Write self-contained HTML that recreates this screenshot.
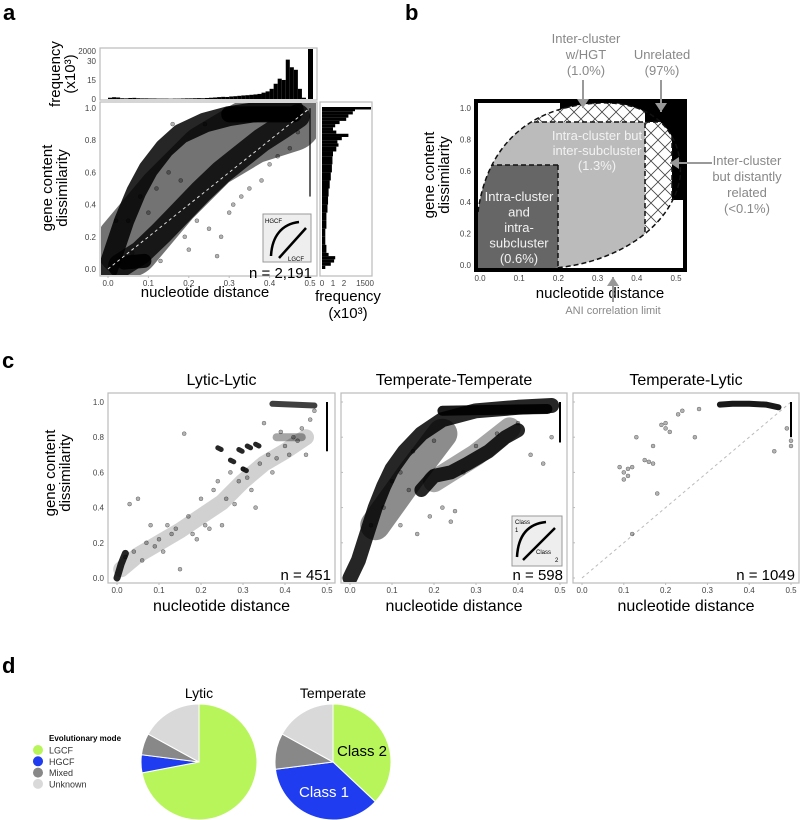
<!DOCTYPE html>
<html><head><meta charset="utf-8"><style>
html,body{margin:0;padding:0;background:#fff;}
svg{display:block;font-family:"Liberation Sans",sans-serif;}
</style></head><body>
<svg id="fig" width="800" height="820" viewBox="0 0 800 820" xmlns="http://www.w3.org/2000/svg">
<defs id="defs">
<pattern id="hatch" width="14" height="14" patternUnits="userSpaceOnUse">
<rect width="14" height="14" fill="#fff"/>
<path d="M0,0 L14,14 M14,0 L0,14" stroke="#444" stroke-width="0.8"/>
</pattern>
<clipPath id="ellClip"><path d="M 478,212 C 486,150 525,106 600,103 C 660,101 684,140 680,178 C 672,225 620,262 555,268 L 470,275 Z"/></clipPath>
<clipPath id="boxB"><rect x="478" y="103" width="206" height="166"/></clipPath>
<clipPath id="clipA"><rect x="101" y="103" width="215" height="172"/></clipPath>
<clipPath id="clipC0"><rect x="109" y="394" width="225" height="188"/></clipPath>
<clipPath id="clipC1"><rect x="342" y="394" width="224" height="188"/></clipPath>
<clipPath id="clipC2"><rect x="574" y="394" width="224" height="188"/></clipPath>
</defs>
<g id="panelA"></g>
<g id="panelB"></g>
<g id="panelC"></g>
<g id="panelD"></g>
</svg>
<script>
// ---------- data ----------
const histTopVals = [1,1.4,1.2,0.6,0.5,0.8,0.9,0.6,0.5,0.5,0.4,0.4,0.3,0.3,0.3,0.2,0.3,0.3,0.4,0.5,0.5,0.6,0.7,0.6,0.8,1,1.2,1.5,1.7,1.6,2,2.2,2.5,2.8,3,3.3,3.6,4,5,6,8,12,16,15,31,25,23,8,1,0];
const histTopBig = 2000;
const histRightBins = [0.0,0.02,0.04,0.06,0.08,0.1,0.15,0.2,0.25,0.3,0.35,0.4,0.45,0.5,0.55,0.6,0.65,0.7,0.73,0.76,0.78,0.8,0.82,0.84,0.86,0.88,0.9,0.92,0.94,0.96,0.98];
const histRightVals = [0.3,0.8,1.1,1.2,0.6,0.4,0.3,0.3,0.4,0.4,0.5,0.55,0.6,0.7,0.8,0.9,0.95,1.0,1.3,1.5,1.4,1.8,2.4,1.3,1.0,1.2,1.6,2.2,2.4,2.8,3.0];
const aPtsX = [0.05,0.08,0.12,0.15,0.18,0.22,0.25,0.28,0.3,0.33,0.35,0.38,0.4,0.42,0.45,0.47,0.27,0.2,0.1,0.16,0.24,0.36,0.44,0.06,0.13,0.02,0.19,0.31];
const aPtsY = [0.3,0.45,0.5,0.6,0.55,0.3,0.25,0.2,0.35,0.45,0.5,0.55,0.65,0.7,0.75,0.85,0.08,0.12,0.35,0.9,0.9,0.98,0.97,0.1,0.05,0.3,0.2,0.4];
const aBand1X = [0.0,0.02,0.04,0.07,0.1,0.14,0.18,0.24,0.3,0.38,0.46];
const aBand1Y = [0.0,0.15,0.3,0.48,0.62,0.75,0.84,0.91,0.95,0.98,0.99];
const aBand2X = [0.03,0.08,0.13,0.18,0.23,0.28,0.33,0.38,0.43,0.47];
const aBand2Y = [0.02,0.1,0.22,0.35,0.48,0.6,0.7,0.8,0.88,0.95];
const aCloudX = [0.05,0.15,0.25,0.35,0.45];
const aCloudY = [0.15,0.45,0.7,0.85,0.93];

const c1PtsX = [0.02,0.04,0.05,0.07,0.08,0.1,0.12,0.14,0.15,0.17,0.18,0.2,0.21,0.23,0.24,0.26,0.27,0.29,0.3,0.32,0.34,0.36,0.38,0.4,0.42,0.44,0.46,0.16,0.03,0.25,0.35,0.45,0.47,0.33,0.06,0.09,0.11,0.13,0.19,0.22,0.28,0.31,0.37,0.41,0.43,0.39];
const c1PtsY = [0.12,0.15,0.45,0.2,0.3,0.22,0.3,0.28,0.05,0.35,0.25,0.45,0.3,0.5,0.55,0.45,0.6,0.55,0.62,0.5,0.65,0.7,0.68,0.75,0.8,0.85,0.9,0.82,0.42,0.3,0.88,0.7,0.95,0.4,0.1,0.18,0.15,0.25,0.22,0.28,0.42,0.57,0.6,0.7,0.78,0.83];
const c1BandX = [0.01,0.05,0.1,0.15,0.2,0.25,0.3,0.35,0.4,0.45];
const c1BandY = [0.05,0.13,0.2,0.27,0.35,0.43,0.55,0.65,0.72,0.8];
const c1BlobX = [0.24,0.27,0.29,0.31,0.33,0.3];
const c1BlobY = [0.74,0.67,0.73,0.75,0.76,0.62];
const c1OriginX = [0.0,0.005,0.01,0.015,0.02];
const c1OriginY = [0.0,0.04,0.08,0.11,0.14];

const c2UpX = [0.0,0.02,0.04,0.06,0.08,0.1,0.13,0.17,0.22,0.3,0.4,0.48];
const c2UpY = [0.0,0.1,0.25,0.4,0.52,0.62,0.72,0.82,0.9,0.95,0.97,0.98];
const c2LowX = [0.17,0.2,0.24,0.28,0.33,0.37,0.4];
const c2LowY = [0.5,0.58,0.6,0.65,0.72,0.8,0.84];
const c2PtsX = [0.05,0.08,0.1,0.12,0.15,0.2,0.22,0.25,0.27,0.3,0.35,0.4,0.43,0.46,0.48,0.14,0.19,0.24,0.12,0.16];
const c2PtsY = [0.3,0.4,0.55,0.6,0.72,0.78,0.4,0.38,0.6,0.75,0.82,0.88,0.7,0.65,0.8,0.5,0.35,0.32,0.3,0.25];

const c3PtsX = [0.09,0.1,0.11,0.12,0.13,0.15,0.17,0.17,0.18,0.19,0.2,0.2,0.21,0.23,0.24,0.27,0.28,0.46,0.49,0.5,0.5,0.12,0.16,0.1,0.11];
const c3PtsY = [0.63,0.6,0.58,0.63,0.8,0.67,0.75,0.65,0.48,0.87,0.88,0.85,0.83,0.93,0.95,0.8,0.96,0.72,0.85,0.75,0.78,0.25,0.66,0.56,0.62];
const c3TopX = [0.33,0.36,0.4,0.44,0.47];
const c3TopY = [0.985,0.99,0.99,0.985,0.97];

const pieLabels = ["LGCF","HGCF","Mixed","Unknown"];
const lyticVals = [72,5,6,17];
const temperateVals = [37,36,10,17];

// ---------- helpers ----------
const NS="http://www.w3.org/2000/svg";
function mk(parent,tag,attrs,text){const e=document.createElementNS(NS,tag);for(const k in attrs)e.setAttribute(k,attrs[k]);if(text!==undefined)e.textContent=text;parent.appendChild(e);return e;}
function lin(d0,d1,r0,r1){return v=>r0+(v-d0)/(d1-d0)*(r1-r0);}
function poly(xs,ys,sx,sy){return xs.map((x,i)=>sx(x).toFixed(1)+","+sy(ys[i]).toFixed(1)).join(" ");}

function drawScatterPanel(g,box,sx,sy,xt,yt,showY){
  const fr=mk(g,'rect',{x:box[0],y:box[1],width:box[2]-box[0],height:box[3]-box[1],fill:'#fff',stroke:'#bbb','stroke-width':1.2});
  
  
  xt.forEach(v=>{const t=mk(g,'text',{x:sx(v),y:box[3]+10,'font-size':8,'text-anchor':'middle',fill:'#444'},v.toFixed(1));
    
    
    mk(g,'line',{x1:sx(v),x2:sx(v),y1:box[3],y2:box[3]+2,stroke:'#bbb'});});
  if(showY) yt.forEach(v=>{const t=mk(g,'text',{x:box[0]-4,y:sy(v)+3,'font-size':8,'text-anchor':'end',fill:'#444'},v.toFixed(1));
    
    });
  else yt.forEach(v=>mk(g,'line',{x1:box[0],x2:box[0]+2,y1:sy(v),y2:sy(v),stroke:'#bbb'}));
}
function band(g,xs,ys,sx,sy,w,op,name){const p=mk(g,'polyline',{points:poly(xs,ys,sx,sy),fill:'none',stroke:'#000','stroke-width':w,'stroke-opacity':op,'stroke-linecap':'round','stroke-linejoin':'round'});
  
  }
function pts(g,xs,ys,sx,sy,name){xs.forEach((x,i)=>{const c=mk(g,'circle',{cx:sx(x),cy:sy(ys[i]),r:2,fill:'#000','fill-opacity':0.3,stroke:'#000','stroke-opacity':0.5,'stroke-width':0.5});
  
  });}
function txt(g,x,y,s,size,opt,name){const t=mk(g,'text',Object.assign({x:x,y:y,'font-size':size},opt||{}),s);
  
  return t;}
function vtxt(g,x,y,s,size,name){const t=mk(g,'text',{x:0,y:0,'font-size':size,'text-anchor':'middle',transform:`translate(${x},${y}) rotate(-90)`},s);
  
  return t;}

// ---------- panel a ----------
(function(){
  const g=document.getElementById('panelA');
  txt(g,3,20,'a',22,{'font-weight':'bold'},'panel-label-a');
  const sx=lin(0,0.5,108,310), sy=lin(0,1,269,108);
  mk(g,'rect',{x:100,y:48,width:217,height:52,fill:'#fff',stroke:'#bbb','stroke-width':1.2});
  const hy=v=>99-v*1.27;
  histTopVals.forEach((v,i)=>{const r=mk(g,'rect',{x:sx(i*0.01),y:hy(v),width:4.05,height:99-hy(v),fill:'#000'});
    
    });
  const big=mk(g,'rect',{x:sx(0.5)-2,y:49,width:5,height:50,fill:'#000'});
  
  
  [[0,'0'],[15,'15'],[30,'30']].forEach(t=>txt(g,96,hy(t[0])+3,t[1],8,{'text-anchor':'end',fill:'#444'},'top-hist-tick'));
  txt(g,96,54,String(histTopBig),8,{'text-anchor':'end',fill:'#444'},'top-hist-tick');
  vtxt(g,60,74,'frequency',15,'top-hist-y-title');
  vtxt(g,75,74,'(x10³)',15,'top-hist-y-unit');
  drawScatterPanel(g,[100,102,317,276],sx,sy,[0,0.1,0.2,0.3,0.4,0.5],[0,0.2,0.4,0.6,0.8,1.0],true);
  const sg=mk(g,'g',{'clip-path':'url(#clipA)'});
  
  
  band(sg,aCloudX,aCloudY,sx,sy,65,0.55,'cloud');
  band(sg,aBand1X,aBand1Y,sx,sy,20,0.85,'hgcf-band');
  band(sg,aBand2X,aBand2Y,sx,sy,24,0.8,'lgcf-band');
  band(sg,[0.3,0.46],[0.96,0.96],sx,sy,16,0.95,'top-cluster');
  band(sg,[0.04,0.09],[0.04,0.05],sx,sy,14,0.9,'low-cluster');
  pts(sg,aPtsX,aPtsY,sx,sy,'scatter-point');
  mk(sg,'line',{x1:sx(0.5),x2:sx(0.5),y1:sy(0.45),y2:sy(1),stroke:'#000','stroke-width':2,'stroke-opacity':0.6});
  mk(sg,'line',{x1:sx(0),y1:sy(0),x2:sx(0.5),y2:sy(1),stroke:'#ddd','stroke-dasharray':'3,3'});
  mk(g,'rect',{x:263,y:214,width:48,height:48,fill:'#eee',stroke:'#999'});
  mk(g,'path',{d:'M271,256 C272,236 282,224 299,222',fill:'none',stroke:'#000','stroke-width':2.5});
  mk(g,'path',{d:'M279,258 L306,228',fill:'none',stroke:'#000','stroke-width':2.5});
  txt(g,265,223,'HGCF',6,{},'inset-hgcf');
  txt(g,288,261,'LGCF',6,{},'inset-lgcf');
  txt(g,312,278,'n = 2,191',15,{'text-anchor':'end'},'n-label-a');
  txt(g,205,297,'nucleotide distance',15,{'text-anchor':'middle'},'x-axis-title-a');
  vtxt(g,52,188,'gene content',15,'y-axis-title-a');
  vtxt(g,67,188,'dissimilarity',15,'y-axis-title-a2');
  mk(g,'rect',{x:320,y:102,width:52,height:174,fill:'#fff',stroke:'#bbb','stroke-width':1.2});
  const hx=v=>322+v*11;
  histRightVals.forEach((v,i)=>{const y0=sy(histRightBins[i]);const y1=sy(i+1<histRightBins.length?histRightBins[i+1]:0.995);
    const r=mk(g,'rect',{x:322,y:y1,width:hx(v)-322,height:y0-y1,fill:'#000'});
    
    });
  mk(g,'rect',{x:322,y:sy(1.0)-1,width:49,height:2.5,fill:'#000'});
  [[0,'0'],[1,'1'],[2,'2']].forEach(t=>txt(g,hx(t[0]),286,t[1],8,{'text-anchor':'middle',fill:'#444'},'right-hist-tick'));
  txt(g,365,286,'1500',8,{'text-anchor':'middle',fill:'#444'},'right-hist-tick');
  txt(g,348,301,'frequency',15,{'text-anchor':'middle'},'right-hist-x-title');
  txt(g,348,318,'(x10³)',15,{'text-anchor':'middle'},'right-hist-x-unit');
})();

// ---------- panel b ----------
(function(){
  const g=document.getElementById('panelB');
  txt(g,405,20,'b',22,{'font-weight':'bold'},'panel-label-b');
  const sx=lin(0,0.5,480,676), sy=lin(0,1,265,108);
  const inner=mk(g,'g',{'clip-path':'url(#boxB)'});
  mk(inner,'path',{d:'M560,100 L690,100 L690,200 L560,200 Z',fill:'#000'});
  const hg=mk(inner,'g',{'clip-path':'url(#ellClip)'});
  mk(hg,'path',{d:'M460,95 L645,95 L645,122 L672,122 L672,280 L460,280 Z',fill:'url(#hatch)'});
  const lg=mk(hg,'rect',{x:470,y:122,width:175,height:150,fill:'#bbb'});
  
  
  const dg=mk(hg,'rect',{x:470,y:165,width:88,height:107,fill:'#666'});
  
  
  mk(hg,'path',{d:'M470,122 L645,122 L645,240 M558,165 L470,165 M558,165 L558,270 M645,122 L672,122 L672,200',fill:'none',stroke:'#111','stroke-width':1.5,'stroke-dasharray':'5,3'});
  mk(inner,'path',{d:'M 478,212 C 486,150 525,106 600,103 C 660,101 684,140 680,178 C 672,225 620,262 555,268',fill:'none',stroke:'#111','stroke-width':1.5,'stroke-dasharray':'5,3'});
  mk(g,'rect',{x:476,y:101,width:209,height:169,fill:'none',stroke:'#000','stroke-width':4});
  [0,0.1,0.2,0.3,0.4,0.5].forEach(v=>txt(g,sx(v),281,v.toFixed(1),8,{'text-anchor':'middle',fill:'#444'},'x-tick-label-b'));
  [0,0.2,0.4,0.6,0.8,1.0].forEach(v=>txt(g,471,sy(v)+3,v.toFixed(1),8,{'text-anchor':'end',fill:'#444'},'y-tick-label-b'));
  txt(g,600,298,'nucleotide distance',15,{'text-anchor':'middle'},'x-axis-title-b');
  vtxt(g,434,175,'gene content',15,'y-axis-title-b');
  vtxt(g,449,175,'dissimilarity',15,'y-axis-title-b2');
  const grey={'text-anchor':'middle',fill:'#888'};
  txt(g,586,43,'Inter-cluster',13,grey,'label-hgt');txt(g,586,59,'w/HGT',13,grey,'label-hgt2');txt(g,586,75,'(1.0%)',13,grey,'label-hgt3');
  txt(g,662,59,'Unrelated',13,grey,'label-unrelated');txt(g,662,75,'(97%)',13,grey,'label-unrelated2');
  ['Inter-cluster','but distantly','related','(<0.1%)'].forEach((s,i)=>txt(g,747,165+i*16,s,13,grey,'label-distant'));
  ['Intra-cluster but','inter-subcluster','(1.3%)'].forEach((s,i)=>txt(g,597,140+i*15,s,13,{'text-anchor':'middle',fill:'#f2f2f2'},'label-inter-subcluster'));
  ['Intra-cluster','and','intra-','subcluster','(0.6%)'].forEach((s,i)=>txt(g,519,201+i*15.5,s,13,{'text-anchor':'middle',fill:'#f2f2f2'},'label-intra-subcluster'));
  txt(g,613,314,'ANI correlation limit',11,grey,'label-ani');
  const arr=(x1,y1,x2,y2,n)=>{const a=mk(g,'line',{x1:x1,y1:y1,x2:x2,y2:y2,stroke:'#999','stroke-width':2});
    const ang=Math.atan2(y2-y1,x2-x1),L=9,W=6;
    mk(g,'polygon',{points:`${x2},${y2} ${x2-L*Math.cos(ang)+W*Math.sin(ang)},${y2-L*Math.sin(ang)-W*Math.cos(ang)} ${x2-L*Math.cos(ang)-W*Math.sin(ang)},${y2-L*Math.sin(ang)+W*Math.cos(ang)}`,fill:'#999'});};
  arr(583,80,583,108,'arrow-hgt');arr(661,80,661,112,'arrow-unrelated');arr(712,163,670,163,'arrow-distant');arr(613,302,613,277,'arrow-ani');
})();

// ---------- panel c ----------
(function(){
  const g=document.getElementById('panelC');
  txt(g,2,368,'c',22,{'font-weight':'bold'},'panel-label-c');
  const boxes=[[108,393,335,583],[341,393,567,583],[573,393,799,583]];
  const xr=[[117,327],[350,560],[582,791]];
  const titles=['Lytic-Lytic','Temperate-Temperate','Temperate-Lytic'];
  const ns=['n = 451','n = 598','n = 1049'];
  const xt=[0,0.1,0.2,0.3,0.4,0.5], yt=[0,0.2,0.4,0.6,0.8,1.0];
  boxes.forEach((b,k)=>{
    const sx=lin(0,0.5,xr[k][0],xr[k][1]), sy=lin(0,1,578,402);
    const pg=mk(g,'g',{});
    
    
    drawScatterPanel(pg,b,sx,sy,xt,yt,k===0);
    const cg=mk(pg,'g',{'clip-path':'url(#clipC'+k+')'});
    if(k===0){
      band(cg,c1BandX,c1BandY,sx,sy,16,0.18,'diffuse-band');
      pts(cg,c1PtsX,c1PtsY,sx,sy,'scatter-point');
      band(cg,c1OriginX,c1OriginY,sx,sy,7,0.85,'origin-cluster');
      c1BlobX.forEach((x,i)=>band(cg,[x,x+0.008],[c1BlobY[i],c1BlobY[i]-0.01],sx,sy,5,0.85,'dense-blob'));
      band(cg,[0.37,0.47],[0.99,0.98],sx,sy,6,0.75,'top-cluster');
      band(cg,[0.38,0.44],[0.8,0.8],sx,sy,8,0.35,'upper-cloud');
      mk(cg,'line',{x1:sx(0.5),x2:sx(0.5),y1:sy(0.72),y2:sy(1),stroke:'#000','stroke-width':2});
    } else if(k===1){
      band(cg,[0.06,0.15,0.22],[0.3,0.6,0.82],sx,sy,30,0.45,'class1-cloud');
      band(cg,[0.2,0.3,0.38],[0.55,0.7,0.85],sx,sy,22,0.35,'class2-cloud');
      band(cg,c2UpX,c2UpY,sx,sy,15,0.85,'class1-band');
      band(cg,c2LowX,c2LowY,sx,sy,14,0.85,'class2-band');
      band(cg,[0.22,0.47],[0.95,0.96],sx,sy,10,0.9,'top-cluster');
      pts(cg,c2PtsX,c2PtsY,sx,sy,'scatter-point');
      mk(cg,'line',{x1:sx(0.5),x2:sx(0.5),y1:sy(0.77),y2:sy(1),stroke:'#000','stroke-width':2});
      mk(pg,'rect',{x:512,y:516,width:50,height:50,fill:'#eee',stroke:'#999'});
      mk(pg,'path',{d:'M517,557 C518,538 526,524 546,522',fill:'none',stroke:'#000','stroke-width':2.5});
      mk(pg,'path',{d:'M523,560 L555,528',fill:'none',stroke:'#000','stroke-width':2.5});
      txt(pg,515,524,'Class',6,{},'inset-class1');txt(pg,515,532,'1',6,{},'inset-class1n');
      txt(pg,536,554,'Class',6,{},'inset-class2');txt(pg,555,562,'2',6,{},'inset-class2n');
    } else {
      mk(cg,'line',{x1:sx(0),y1:sy(0),x2:sx(0.5),y2:sy(1),stroke:'#bbb','stroke-dasharray':'3,3'});
      band(cg,c3TopX,c3TopY,sx,sy,6,0.9,'top-cluster');
      pts(cg,c3PtsX,c3PtsY,sx,sy,'scatter-point');
      mk(cg,'line',{x1:sx(0.5),x2:sx(0.5),y1:sy(0.8),y2:sy(1),stroke:'#000','stroke-width':2});
    }
    txt(pg,(b[0]+b[2])/2,385,titles[k],16,{'text-anchor':'middle'},'panel-title');
    txt(pg,(b[0]+b[2])/2,611,'nucleotide distance',16,{'text-anchor':'middle'},'x-axis-title');
    txt(pg,b[2]-4,580,ns[k],15,{'text-anchor':'end'},'n-label');
  });
  vtxt(g,55,473,'gene content',15,'y-axis-title-c');
  vtxt(g,70,473,'dissimilarity',15,'y-axis-title-c2');
})();

// ---------- panel d ----------
(function(){
  const g=document.getElementById('panelD');
  txt(g,2,673,'d',22,{'font-weight':'bold'},'panel-label-d');
  const cols=['#b8f55a','#1f3cf0','#888888','#d9d9d9'];
  txt(g,49,741,'Evolutionary mode',8,{'font-weight':'bold'},'legend-title');
  pieLabels.forEach((l,i)=>{const c=mk(g,'circle',{cx:38,cy:750+i*11.3,r:5,fill:cols[i]});
    
    
    txt(g,49,753.5+i*11.3,l,9,{fill:'#333'},'legend-entry-'+l.toLowerCase());});
  function pie(cx,cy,r,vals,title,name){
    const pg=mk(g,'g',{});
    
    
    const tot=vals.reduce((a,b)=>a+b,0);let a0=0;
    vals.forEach((v,i)=>{const a1=a0+v/tot*2*Math.PI;
      const x0=cx+r*Math.sin(a0),y0=cy-r*Math.cos(a0),x1=cx+r*Math.sin(a1),y1=cy-r*Math.cos(a1);
      const p=mk(pg,'path',{d:`M${cx},${cy} L${x0},${y0} A${r},${r} 0 ${a1-a0>Math.PI?1:0} 1 ${x1},${y1} Z`,fill:cols[i],stroke:'#fff','stroke-width':1});
      
      
      a0=a1;});
    txt(pg,cx,698,title,14,{'text-anchor':'middle'},'pie-title');
    return pg;
  }
  pie(199,762,58,lyticVals,'Lytic','pie-lytic');
  const tp=pie(333,762,58,temperateVals,'Temperate','pie-temperate');
  txt(tp,362,756,'Class 2',15,{'text-anchor':'middle'},'label-class2');
  txt(tp,324,797,'Class 1',15,{'text-anchor':'middle',fill:'#fff'},'label-class1');
})();
</script>
</body></html>
